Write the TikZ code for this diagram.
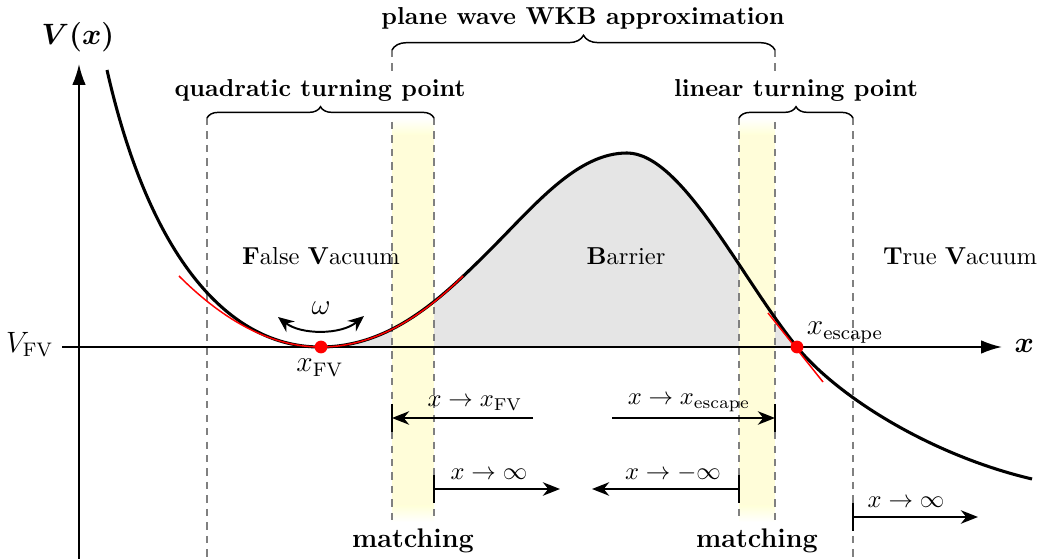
\documentclass[tikz,border=0pt]{standalone}
\usepackage{bm}
\usetikzlibrary{arrows.meta,decorations.pathreplacing}
\begin{document}
\begin{tikzpicture}[x=0.408pt,y=-0.408pt,
  potential/.style={line width=1.25pt},
  guide/.style={gray,line width=0.5pt,dash pattern=on 3pt off 2.5pt},
  limarrow/.style={line width=0.8pt,-{Stealth[length=7pt,width=5.5pt,inset=2.2pt]}},
  limbar/.style={line width=1.2pt},
  bigbrace/.style={decorate,decoration={brace,amplitude=6pt},line width=0.6pt},
  smallbrace/.style={decorate,decoration={brace,amplitude=4.6pt},line width=0.6pt},
  lbl/.style={inner sep=0pt,anchor=base},
  axisline/.style={line width=0.8pt,-{Latex[length=8.5pt,width=5.5pt]}},
  fitline/.style={red,line width=0.6pt},
  dotred/.style={circle,fill=red,inner sep=0pt,minimum size=5.2pt},
]
\useasboundingbox (0,0) rectangle (1040,559);

% barrier fill
\fill[gray!20] (320,347) .. controls (390,347) and (440,300) .. (490,250)
  .. controls (535,205) and (577,153) .. (627,153)
  .. controls (682,153) and (742,280) .. (797,347) -- cycle;

% matching bands
\foreach \a/\b in {392/434,739/775}{
  \fill[yellow!15] (\a,134) rectangle (\b,506);
  \shade[top color=white,bottom color=yellow!15] (\a,118) rectangle (\b,134.5);
  \shade[top color=yellow!15,bottom color=white] (\a,505.5) rectangle (\b,522);
}

% guide lines
\draw[guide] (207,118) -- (207,559);
\draw[guide] (392,50) -- (392,72);
\draw[guide] (392,122) -- (392,520);
\draw[guide] (434,118) -- (434,520);
\draw[guide] (739,118) -- (739,520);
\draw[guide] (775,50) -- (775,72);
\draw[guide] (775,122) -- (775,520);
\draw[guide] (853,118) -- (853,559);

% braces
\draw[bigbrace] (392,50) -- (775,50);
\draw[smallbrace] (207,118) -- (434,118);
\draw[smallbrace] (739,118) -- (853,118);
\node[lbl,font=\bfseries] (wkb) at (583,25) {plane wave WKB approximation};
\node[lbl,font=\bfseries] (quad) at (320,97) {quadratic turning point};
\node[lbl,font=\bfseries] (lin) at (796,97) {linear turning point};

% axes
\coordinate (ybot) at (79,559);
\coordinate (ytop) at (79,64);
\coordinate (xleft) at (62,347);
\coordinate (xright) at (1002,347);
\draw[axisline] (ybot) -- (ytop);
\draw[axisline] (xleft) -- (xright);
\node[lbl] (Vlab) at (78,45) {\large$\bm{V(x)}$};
\node[inner sep=0pt,anchor=base west] (xlab) at (1014,353) {\large$\bm{x}$};
\node[inner sep=0pt,anchor=base east] (VFV) at (54,352.5) {\large$V_{\mathrm{FV}}$};

% potential
\draw[potential] (107,70) .. controls (150,260) and (230,347) .. (320,347)
  .. controls (390,347) and (440,300) .. (490,250)
  .. controls (535,205) and (577,153) .. (627,153)
  .. controls (682,153) and (742,280) .. (797,347)
  .. controls (837,396) and (930,455) .. (1032,479);

% fits
\draw[fitline] (179,276) .. controls (273.7,370.7) and (368.3,370.7) .. (463,276);
\coordinate (tanA) at (768,313);
\coordinate (tanB) at (823,382);
\draw[fitline] (tanA) -- (tanB);
\node[dotred] (fv) at (321,347) {};
\node[dotred] (esc) at (797,347) {};

% omega
\coordinate (omL) at (278,317);
\coordinate (omR) at (364,316);
\draw[line width=0.8pt,{Stealth[length=6.5pt,width=5.5pt,inset=2.2pt]}-{Stealth[length=6.5pt,width=5.5pt,inset=2.2pt]}]
  (omL) .. controls (301,335) and (341,335) .. (omR);
\node[lbl] (om) at (321,315) {\large$\omega$};
\node[lbl] (xfv) at (320,372) {\large$x_{\mathrm{FV}}$};
\node[lbl] (xesc) at (845,335) {\large$x_{\mathrm{escape}}$};

% region labels
\node[lbl] (fvac) at (321,265) {\textbf{F}alse \textbf{V}acuum};
\node[lbl] (bar) at (626,265) {\textbf{B}arrier};
\node[lbl] (tvac) at (960,265) {\textbf{T}rue \textbf{V}acuum};

% limits
\coordinate (a1s) at (533,418); \coordinate (a1e) at (392,418);
\draw[limarrow] (a1s) -- (a1e);
\draw[limbar] (392,404) -- (392,432);
\node[lbl] at (475,407) {$x\to x_{\mathrm{FV}}$};

\coordinate (a2s) at (612,418); \coordinate (a2e) at (775,418);
\draw[limarrow] (a2s) -- (a2e);
\draw[limbar] (775,404) -- (775,432);
\node[lbl] at (689,405) {$x\to x_{\mathrm{escape}}$};

\coordinate (a3s) at (434,489); \coordinate (a3e) at (560,489);
\draw[limarrow] (a3s) -- (a3e);
\draw[limbar] (434,475) -- (434,503);
\node[lbl] at (489,480) {$x\to \infty$};

\coordinate (a4s) at (739,489); \coordinate (a4e) at (592,489);
\draw[limarrow] (a4s) -- (a4e);
\draw[limbar] (739,475) -- (739,503);
\node[lbl] at (673,480) {$x\to -\infty$};

\coordinate (a5s) at (853,517); \coordinate (a5e) at (978,517);
\draw[limarrow] (a5s) -- (a5e);
\draw[limbar] (853,503) -- (853,531);
\node[lbl] at (906,508) {$x\to \infty$};

\node[lbl,font=\fontsize{11}{13}\selectfont\bfseries] (m1) at (413,547) {matching};
\node[lbl,font=\fontsize{11}{13}\selectfont\bfseries] (m2) at (757,547) {matching};
\end{tikzpicture}
\end{document}
